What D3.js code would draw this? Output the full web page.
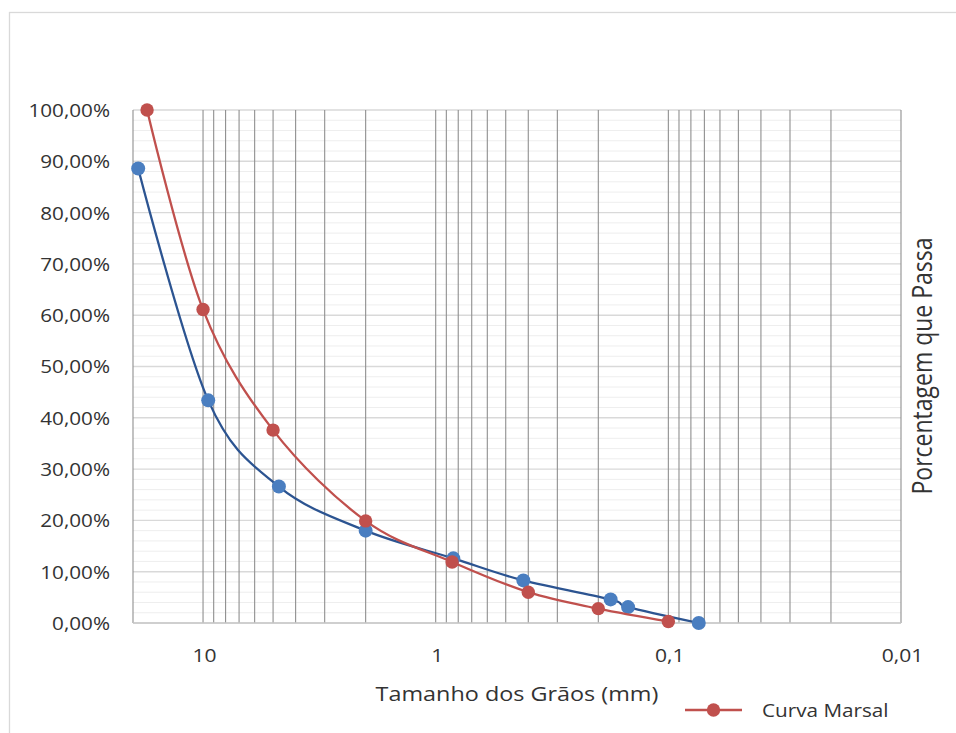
<!DOCTYPE html>
<html>
<head>
<meta charset="utf-8">
<script src="https://cdn.jsdelivr.net/npm/d3@7"></script>
<style>
  body { margin: 0; background: #fff; }
  text { font-family: "Open Sans", "DejaVu Sans", sans-serif; fill: #333333; }
</style>
</head>
<body>
<svg id="chart" width="956" height="733"></svg>
<script>
// Grain size distribution: sieve opening (mm) vs. percent passing
const sampleSizes   = [19.0, 9.5, 4.72, 2.0, 0.84, 0.42, 0.177, 0.149, 0.074];
const samplePassing = [88.6, 43.4, 26.6, 18.0, 12.6, 8.3, 4.6, 3.1, 0.0];

const marsalSizes   = [17.4, 10.0, 5.0, 2.0, 0.85, 0.40, 0.20, 0.10];
const marsalPassing = [100.0, 61.1, 37.6, 19.9, 11.9, 6.0, 2.8, 0.3];

const xDomain     = [20, 0.01];
const xTicks      = [10, 1, 0.1, 0.01];
const xTickLabels = ["10", "1", "0,1", "0,01"];
const yTicks      = [0, 10, 20, 30, 40, 50, 60, 70, 80, 90, 100];

const xTitle   = "Tamanho dos Grãos (mm)";
const yTitle   = "Porcentagem que Passa";
const legendLabel = "Curva Marsal";

const svg = d3.select("#chart");
const plot = { left: 133, right: 901, top: 110, bottom: 623 };

const x = d3.scaleLog().domain(xDomain).range([plot.left, plot.right]);
const y = d3.scaleLinear().domain([0, 100]).range([plot.bottom, plot.top]);

const ptBR = d3.formatLocale({ decimal: ",", thousands: ".", grouping: [3], currency: ["R$", ""] });
const pctFmt = v => ptBR.format(".2f")(v) + "%";

// outer chart frame
svg.append("rect")
  .attr("x", 9.5).attr("y", 12.5)
  .attr("width", 1000).attr("height", 800)
  .attr("fill", "none").attr("stroke", "#d9d9d9").attr("stroke-width", 1.3);

// horizontal grid: minor every 2 %, major every 10 %
svg.append("g").selectAll("line")
  .data(y.ticks(50))
  .join("line")
  .attr("x1", plot.left).attr("x2", plot.right)
  .attr("y1", d => y(d)).attr("y2", d => y(d))
  .attr("stroke", d => d % 10 === 0 ? "#d9d9d9" : "#eeeeee")
  .attr("stroke-width", d => d % 10 === 0 ? 1.4 : 1);

// vertical log grid
svg.append("g").selectAll("line")
  .data(x.ticks())
  .join("line")
  .attr("x1", d => x(d)).attr("x2", d => x(d))
  .attr("y1", plot.top).attr("y2", plot.bottom)
  .attr("stroke", "#8f8f8f")
  .attr("stroke-width", 1.1);

// bottom axis line
svg.append("line")
  .attr("x1", plot.left).attr("x2", plot.right)
  .attr("y1", plot.bottom).attr("y2", plot.bottom)
  .attr("stroke", "#c8c8c8").attr("stroke-width", 1.4);

// y axis labels
const yAxis = svg.append("g")
  .attr("transform", `translate(${plot.left},0)`)
  .call(d3.axisLeft(y).tickValues(yTicks).tickFormat(pctFmt).tickSize(0));
yAxis.select(".domain").remove();
yAxis.selectAll("text")
  .attr("x", null).attr("dy", "0.357em")
  .attr("transform", "translate(-23,0) scale(1.15,1)")
  .style("font-size", "18px")
  .attr("fill", "#333333");
yAxis.attr("font-family", null).attr("font-size", null);

// x axis labels
const xAxis = svg.append("g")
  .attr("transform", `translate(0,${plot.bottom})`)
  .call(d3.axisBottom(x).tickValues(xTicks)
    .tickFormat((d, i) => xTickLabels[i]).tickSize(0));
xAxis.select(".domain").remove();
xAxis.selectAll("text")
  .attr("y", null).attr("dy", null)
  .attr("transform", "translate(1,39) scale(1.14,1)")
  .style("font-size", "18.5px")
  .attr("fill", "#333333");
xAxis.attr("font-family", null).attr("font-size", null);

// axis titles
svg.append("text")
  .attr("transform", `translate(${(plot.left + plot.right) / 2},701) scale(1.17,1)`)
  .attr("text-anchor", "middle")
  .style("font-size", "20px")
  .text(xTitle);

svg.append("text")
  .attr("transform", "translate(932,366) scale(1.18,1) rotate(-90)")
  .attr("text-anchor", "middle")
  .style("font-size", "23px")
  .text(yTitle);

// curves
const line = d3.line()
  .x(d => x(d[0]))
  .y(d => y(d[1]))
  .curve(d3.curveCatmullRom.alpha(0));

function drawSeries(sizes, passing, lineColor, markerColor, r) {
  const pts = sizes.map((s, i) => [s, passing[i]]);
  const g = svg.append("g");
  g.append("path")
    .datum(pts)
    .attr("d", line)
    .attr("fill", "none")
    .attr("stroke", lineColor)
    .attr("stroke-width", 2.3);
  g.selectAll("circle")
    .data(pts)
    .join("circle")
    .attr("cx", d => x(d[0]))
    .attr("cy", d => y(d[1]))
    .attr("r", r)
    .attr("fill", markerColor);
}

drawSeries(sampleSizes, samplePassing, "#2c5491", "#4a7ec0", 7);
drawSeries(marsalSizes, marsalPassing, "#c0504d", "#c0504d", 6.7);

// legend
const lg = svg.append("g");
lg.append("line")
  .attr("x1", 685).attr("x2", 742).attr("y1", 710).attr("y2", 710)
  .attr("stroke", "#c0504d").attr("stroke-width", 2.3);
lg.append("circle")
  .attr("cx", 713.5).attr("cy", 710).attr("r", 6.7)
  .attr("fill", "#c0504d");
lg.append("text")
  .attr("transform", "translate(762,717) scale(1.09,1)")
  .style("font-size", "19px")
  .text(legendLabel);
</script>
</body>
</html>
